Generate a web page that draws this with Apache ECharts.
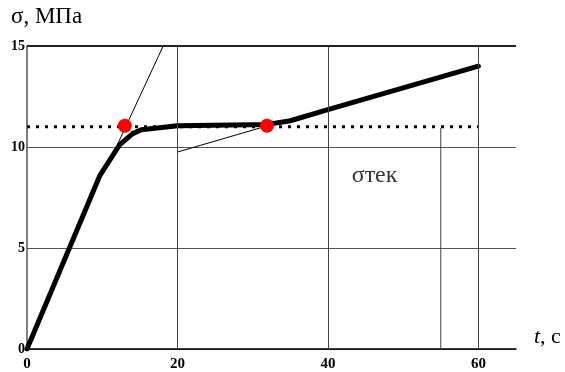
<!DOCTYPE html>
<html>
<head>
<meta charset="utf-8">
<script src="https://cdn.jsdelivr.net/npm/echarts@6/dist/echarts.min.js"></script>
<style>
html,body{margin:0;padding:0;background:#fff;}
#c{width:565px;height:372px;}
</style>
</head>
<body>
<div id="c"></div>
<script>
// Data
const curve = [[0,0],[9.7,8.6],[12.3,10.1],[14,10.65],[15.2,10.85],[20,11.05],[32,11.12],[35,11.3],[40,11.85],[60,14.0]];
const yieldLevel = [[0,11],[60,11]];
const tangent1 = [[12,10.1],[18.1,15]];
const tangent2 = [[20,9.75],[31.5,11.0]];
const vLine55 = [[55,0],[55,10.95]];
const points = [[13,11.05],[31.9,11.05]];
const labelPoint = [[46.2,8.6]];
const labelText = 'σтек';
const xGridValues = [20,40,60];
const xTickLabels = [0,20,40,60];
const yMax = 15;

const serif = '"Liberation Serif","Times New Roman",serif';
const chart = echarts.init(document.getElementById('c'));
chart.setOption({
  animation: false,
  grid: {left: 27, right: 49, top: 46, bottom: 22, containLabel: false},
  xAxis: {
    type: 'value', min: 0, max: 65,
    axisLine: {show: true, lineStyle: {color: '#000', width: 1.5}},
    axisTick: {show: false},
    splitLine: {show: false},
    axisLabel: {customValues: xTickLabels, margin: 8, color: '#000', fontWeight: 'bold', fontSize: 15, fontFamily: serif}
  },
  yAxis: {
    type: 'value', min: 0, max: yMax, interval: 5,
    axisLine: {show: true, lineStyle: {color: '#555', width: 1.5}},
    axisTick: {show: false},
    splitLine: {show: true, lineStyle: {color: '#555', width: 1}},
    axisLabel: {margin: 2, color: '#000', fontWeight: 'bold', fontSize: 14, fontFamily: serif, verticalAlign: 'middle', padding: [4,0,0,0]}
  },
  graphic: [
    {type: 'text', left: 11, top: 5, style: {text: 'σ, МПа', font: '23px ' + serif, fill: '#000'}},
    {type: 'text', left: 534, top: 326, style: {text: '{i|t}, c', font: '22px ' + serif, fill: '#000', rich: {i: {fontStyle: 'italic', fontSize: 22, fontFamily: serif}}}}
  ],
  series: [
    {
      type: 'line', data: [], z: 1, silent: true,
      markLine: {
        silent: true, symbol: 'none', label: {show: false},
        data: xGridValues.map(v => ({xAxis: v, lineStyle: {color: '#444', width: 1, type: 'solid'}}))
          .concat([{yAxis: yMax, lineStyle: {color: '#222', width: 2, type: 'solid'}}])
      }
    },
    {type: 'line', data: vLine55, symbol: 'none', z: 2, lineStyle: {color: '#444', width: 1}},
    {type: 'line', data: tangent1, symbol: 'none', z: 3, lineStyle: {color: '#000', width: 1}},
    {type: 'line', data: tangent2, symbol: 'none', z: 3, lineStyle: {color: '#000', width: 1}},
    {type: 'line', data: yieldLevel, symbol: 'none', z: 3, lineStyle: {color: '#000', width: 3, type: [3,6]}},
    {type: 'line', data: curve, symbol: 'none', z: 4, lineStyle: {color: '#000', width: 5, join: 'round', cap: 'round'}},
    {type: 'scatter', data: points, symbolSize: 14, z: 5, itemStyle: {color: '#ff0000', opacity: 1}},
    {type: 'scatter', data: labelPoint, symbolSize: 0, z: 5,
      label: {show: true, position: 'inside', formatter: labelText, color: '#000', fontSize: 24, fontFamily: serif}}
  ]
});
</script>
</body>
</html>
